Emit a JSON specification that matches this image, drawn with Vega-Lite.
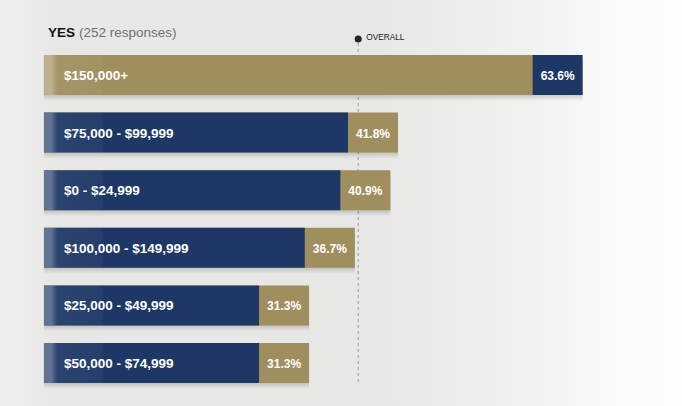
{
  "$schema": "https://vega.github.io/schema/vega-lite/v6.json",
  "width": 682,
  "height": 406,
  "padding": 0,
  "autosize": {"type": "none"},
  "background": "#ebebe9",
  "config": {
    "view": {
      "stroke": null,
      "fill": {
        "gradient": "linear",
        "x1": 0, "y1": 0, "x2": 1, "y2": 0,
        "stops": [
          {"offset": 0, "color": "#efefed"},
          {"offset": 0.08, "color": "#e7e7e5"},
          {"offset": 0.55, "color": "#e7e8e5"},
          {"offset": 0.78, "color": "#f1f1f0"},
          {"offset": 0.92, "color": "#fbfbfb"},
          {"offset": 1, "color": "#fdfdfd"}
        ]
      }
    },
    "font": "Liberation Sans"
  },
  "datasets": {
    "bars": [
      {"income": "$150,000+", "pct": 0.636},
      {"income": "$75,000 - $99,999", "pct": 0.418},
      {"income": "$0 - $24,999", "pct": 0.409},
      {"income": "$100,000 - $149,999", "pct": 0.367},
      {"income": "$25,000 - $49,999", "pct": 0.313},
      {"income": "$50,000 - $74,999", "pct": 0.313}
    ],
    "overall": [{"pct": 0.371, "label": "OVERALL", "first": "$150,000+", "last": "$50,000 - $74,999"}],
    "header": [{"title": "YES", "sub": "(252 responses)", "first": "$150,000+"}]
  },
  "encoding": {
    "y": {"field": "income", "type": "nominal", "axis": null,
          "scale": {"domain": ["$150,000+", "$75,000 - $99,999", "$0 - $24,999", "$100,000 - $149,999", "$25,000 - $49,999", "$50,000 - $74,999"],
                    "paddingInner": 0.306, "paddingOuter": 0.6774, "align": 0.705}}
  },
  "layer": [
    {
      "data": {"name": "overall"},
      "mark": {"type": "rule", "strokeDash": [3, 3], "color": "#9c9c9c", "strokeWidth": 1, "yOffset": -12, "y2Offset": 2},
      "encoding": {
        "x": {"field": "pct", "type": "quantitative", "scale": {"domain": [-0.0519, 0.7533], "zero": false, "nice": false}, "axis": null},
        "y": {"field": "first", "type": "nominal", "bandPosition": 0},
        "y2": {"field": "last", "bandPosition": 1}
      }
    },
    {
      "data": {"name": "bars"},
      "mark": {
        "type": "bar", "yOffset": 6,
        "fill": {
          "gradient": "linear", "x1": 0, "y1": 0, "x2": 0, "y2": 1,
          "stops": [
            {"offset": 0.8, "color": "rgba(0,0,0,0.22)"},
            {"offset": 1, "color": "rgba(0,0,0,0)"}
          ]
        }
      },
      "encoding": {
        "x": {"field": "pct", "type": "quantitative"},
        "x2": {"datum": 0}
      }
    },
    {
      "data": {"name": "bars"},
      "mark": {"type": "bar"},
      "encoding": {
        "x": {"field": "pct", "type": "quantitative"},
        "x2": {"datum": 0},
        "color": {"condition": {"test": "datum.income === '$150,000+'", "value": "#1e3866"}, "value": "#a08e5e"}
      }
    },
    {
      "data": {"name": "bars"},
      "mark": {"type": "bar", "xOffset": -50},
      "encoding": {
        "x": {"field": "pct", "type": "quantitative"},
        "x2": {"datum": 0},
        "color": {"condition": {"test": "datum.income === '$150,000+'", "value": "#a08e5e"}, "value": "#1e3866"}
      }
    },
    {
      "data": {"name": "bars"},
      "mark": {
        "type": "bar", "x2Offset": 60,
        "fill": {
          "gradient": "linear", "x1": 0, "y1": 0, "x2": 1, "y2": 0,
          "stops": [
            {"offset": 0, "color": "rgba(255,255,255,0.30)"},
            {"offset": 0.12, "color": "rgba(255,255,255,0.30)"},
            {"offset": 0.22, "color": "rgba(255,255,255,0.06)"},
            {"offset": 0.95, "color": "rgba(255,255,255,0.03)"},
            {"offset": 1, "color": "rgba(255,255,255,0)"}
          ]
        }
      },
      "encoding": {
        "x": {"datum": 0},
        "x2": {"datum": 0}
      }
    },
    {
      "data": {"name": "bars"},
      "mark": {"type": "text", "align": "left", "baseline": "middle", "dx": 20, "dy": 1, "color": "#ffffff", "fontWeight": "bold", "fontSize": 13.5},
      "encoding": {
        "x": {"datum": 0},
        "text": {"field": "income"}
      }
    },
    {
      "data": {"name": "bars"},
      "mark": {"type": "text", "align": "center", "baseline": "middle", "dx": -25, "dy": 1, "color": "#ffffff", "fontWeight": "bold", "fontSize": 12},
      "encoding": {
        "x": {"field": "pct", "type": "quantitative"},
        "text": {"field": "pct", "format": ".1%"}
      }
    },
    {
      "data": {"name": "overall"},
      "mark": {"type": "point", "filled": true, "opacity": 1, "color": "#262626", "size": 50, "yOffset": -16},
      "encoding": {
        "x": {"field": "pct", "type": "quantitative"},
        "y": {"field": "first", "type": "nominal", "bandPosition": 0}
      }
    },
    {
      "data": {"name": "overall"},
      "mark": {"type": "text", "align": "left", "baseline": "middle", "dx": 8, "dy": -17, "color": "#222222", "fontSize": 8.3},
      "encoding": {
        "x": {"field": "pct", "type": "quantitative"},
        "y": {"field": "first", "type": "nominal", "bandPosition": 0},
        "text": {"field": "label"}
      }
    },
    {
      "data": {"name": "header"},
      "mark": {"type": "text", "align": "left", "baseline": "alphabetic", "dx": 4, "dy": -18, "color": "#111111", "fontWeight": "bold", "fontSize": 13.5},
      "encoding": {
        "x": {"datum": 0},
        "y": {"field": "first", "type": "nominal", "bandPosition": 0},
        "text": {"field": "title"}
      }
    },
    {
      "data": {"name": "header"},
      "mark": {"type": "text", "align": "left", "baseline": "alphabetic", "dx": 35, "dy": -18, "color": "#707070", "fontSize": 13.5},
      "encoding": {
        "x": {"datum": 0},
        "y": {"field": "first", "type": "nominal", "bandPosition": 0},
        "text": {"field": "sub"}
      }
    }
  ]
}
